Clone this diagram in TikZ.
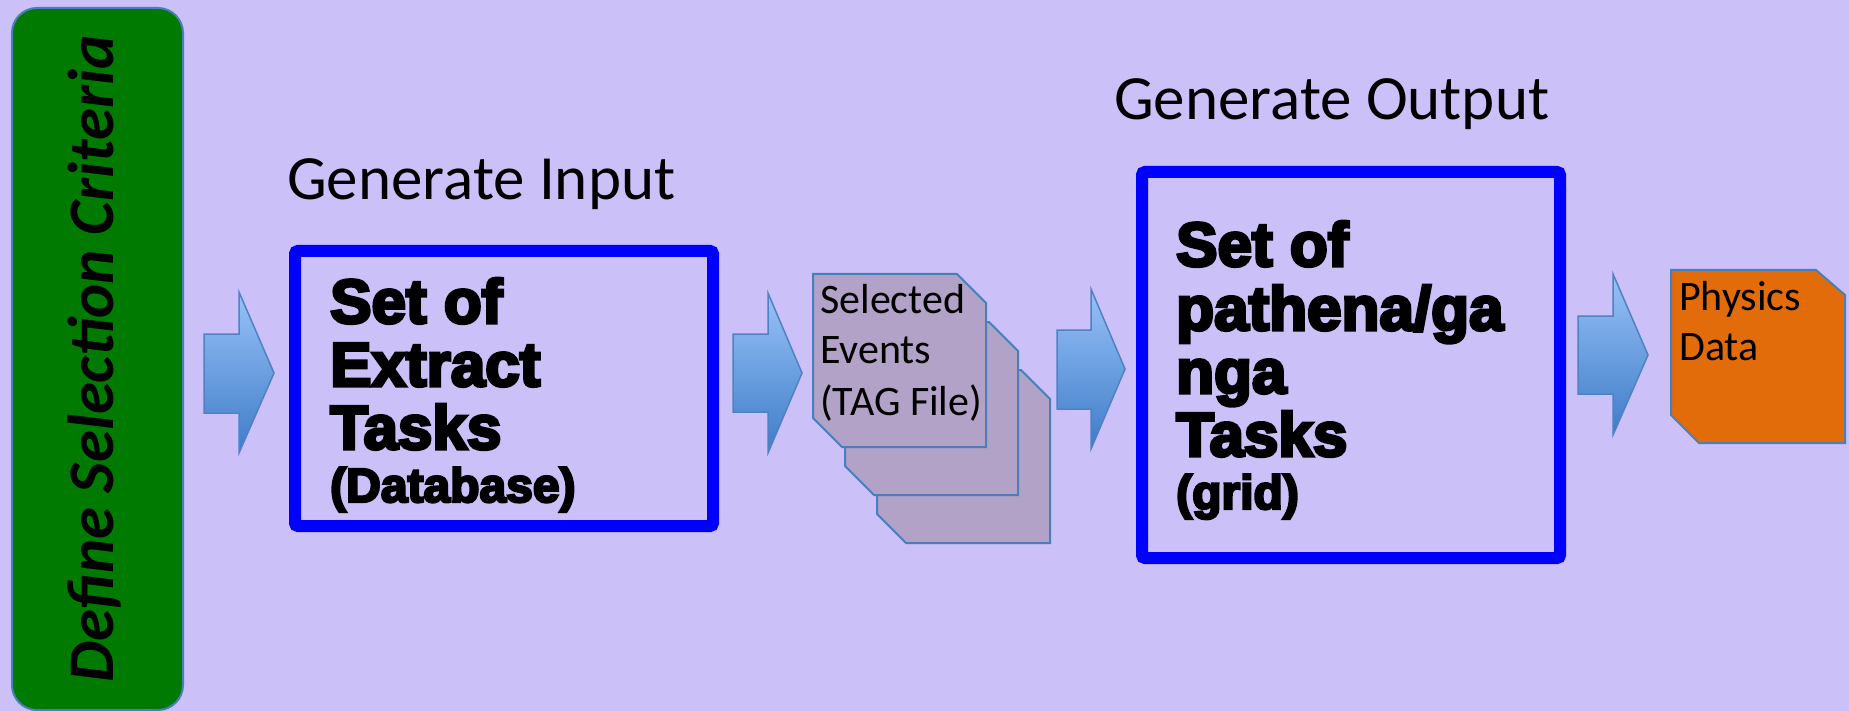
\documentclass[tikz,border=0pt]{standalone}
\usepackage{fontspec}
\setmainfont{Carlito}
\newfontfamily\heavyfont{Liberation Sans}[FakeBold=5]
\definecolor{bgcol}{RGB}{203,192,248}
\definecolor{critgreen}{RGB}{0,122,0}
\definecolor{outl}{RGB}{74,126,187}
\definecolor{taskblue}{RGB}{0,0,255}
\definecolor{docpurple}{RGB}{178,162,199}
\definecolor{physorange}{RGB}{227,108,10}
\definecolor{arrtop}{RGB}{152,194,248}
\definecolor{arrbot}{RGB}{62,124,200}
\definecolor{arroutl}{RGB}{80,130,195}
\begin{document}
\begin{tikzpicture}[x=1pt,y=-1pt,
  heavy/.style={anchor=base west, inner sep=0pt, font=\heavyfont\bfseries\fontsize{62}{63}\selectfont},
  heavysmall/.style={anchor=base west, inner sep=0pt, font=\heavyfont\bfseries\fontsize{48}{50}\selectfont},
  titletext/.style={anchor=base west, inner sep=0pt, font=\fontsize{63}{70}\selectfont},
  doctext/.style={anchor=base west, inner sep=0pt, font=\fontsize{42}{50}\selectfont},
  taskbox/.style={draw=taskblue, line width=12pt, rounded corners=3pt, inner sep=0pt},
  docshape/.style={draw=outl, line width=2pt, line join=miter},
  blockarrow/.style={top color=arrtop, bottom color=arrbot, draw=arroutl, line width=1.5pt}]
\useasboundingbox (0,0) rectangle (1849,711);
\fill[bgcol] (0,0) rectangle (1849,711);
% criteria bar
\node (crit) [draw=outl, fill=critgreen, rounded corners=25pt, line width=2pt,
  minimum width=171pt, minimum height=702pt, inner sep=0pt] at (97.5,359) {};
\node (critlabel) [rotate=90, anchor=base, inner sep=0pt,
  font=\bfseries\itshape\fontsize{65}{70}\selectfont] at (113,359) {Define Selection Criteria};
% titles
\node (titlein) [titletext] at (287,200) {Generate Input};
\node (titleout) [titletext] at (1114,120) {Generate Output};
% task boxes
\node (extract) [taskbox, minimum width=418pt, minimum height=275pt] at (504,388.5) {};
\node (ex1) [heavy] at (330,323) {Set of};
\node (ex2) [heavy] at (330,386) {Extract};
\node (ex3) [heavy] at (330,449) {Tasks};
\node (ex4) [heavysmall] at (330,502) {(Database)};
\node (pathena) [taskbox, minimum width=418pt, minimum height=386pt] at (1351,365) {};
\node (pa1) [heavy] at (1176,266) {Set of};
\node (pa2) [heavy] at (1176,330) {pathena/ga};
\node (pa3) [heavy] at (1176,393) {nga};
\node (pa4) [heavy] at (1176,456) {Tasks};
\node (pa5) [heavysmall] at (1176,509) {(grid)};
% block arrows
\shadedraw[blockarrow] (204,334) -- (239,334) -- (239,292) -- (274,373) -- (239,453) -- (239,413) -- (204,413) -- cycle;
\shadedraw[blockarrow] (733,334) -- (768,334) -- (768,293) -- (802,373) -- (768,453) -- (768,412) -- (733,412) -- cycle;
\shadedraw[blockarrow] (1057,330) -- (1091,330) -- (1091,289) -- (1125,369) -- (1091,449) -- (1091,409) -- (1057,409) -- cycle;
\shadedraw[blockarrow] (1578,316) -- (1613,316) -- (1613,274) -- (1648,355) -- (1613,435) -- (1613,394) -- (1578,394) -- cycle;
% selected events stack
\draw[docshape, fill=docpurple] (877,370) -- (1021,370) -- (1050,399) -- (1050,543) -- (906,543) -- (877,514) -- cycle;
\draw[docshape, fill=docpurple] (845,322) -- (989,322) -- (1018,351) -- (1018,495) -- (874,495) -- (845,466) -- cycle;
\draw[docshape, fill=docpurple] (813,274) -- (957,274) -- (986,303) -- (986,447) -- (842,447) -- (813,418) -- cycle;
\node (ev1) [doctext] at (820,313) {Selected};
\node (ev2) [doctext] at (820,363) {Events};
\node (ev3) [doctext] at (820,415) {(TAG File)};
% physics data
\draw[docshape, fill=physorange] (1671,270) -- (1816,270) -- (1845,295) -- (1845,443) -- (1699,443) -- (1671,415) -- cycle;
\node (ph1) [doctext] at (1679,310) {Physics};
\node (ph2) [doctext] at (1679,360) {Data};
\end{tikzpicture}
\end{document}
